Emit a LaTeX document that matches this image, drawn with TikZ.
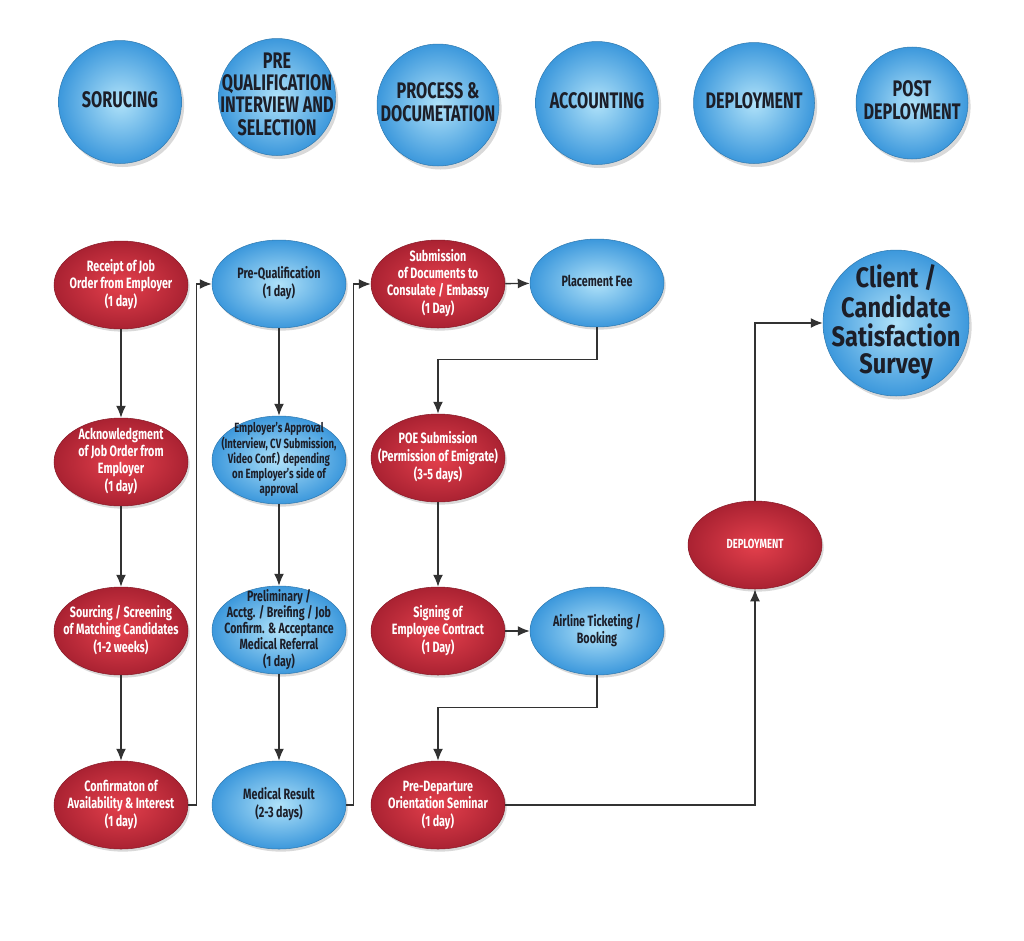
\documentclass[tikz,border=0pt]{standalone}
\usepackage{fontspec}
\setmainfont{Fira Sans}[FakeStretch=0.72]
\newfontfamily\surveyfont{Fira Sans}[FakeStretch=0.84]
\usetikzlibrary{shapes.geometric,shadows,arrows.meta}

\definecolor{redin}{RGB}{228,64,76}
\definecolor{redout}{RGB}{170,34,50}
\definecolor{bluein}{RGB}{176,226,249}
\definecolor{blueout}{RGB}{60,152,220}
\definecolor{inkdark}{RGB}{28,30,40}
\definecolor{wire}{RGB}{50,50,50}

% text that does not change the size of its shape
\newcommand\steptext[1]{\makebox[0pt]{\raisebox{-0.25em}[0pt][0pt]{%
    \begin{tabular}{@{}c@{}}#1\end{tabular}}}}

\tikzset{
    bubble/.style={ellipse,inner sep=0pt,
        minimum width=2.68cm,minimum height=1.76cm,
        drop shadow={opacity=0.3,shadow xshift=1pt,shadow yshift=-1.5pt},
        font=\bfseries\fontsize{8.5}{9.6}\selectfont},
    redstep/.style={bubble,shading=radial,inner color=redin,outer color=redout,
        draw=redout!80!black,line width=0.3pt,text=white},
    bluestep/.style={bubble,shading=radial,inner color=bluein,outer color=blueout,
        draw=blueout!80!black,line width=0.3pt,text=inkdark},
    phase/.style={circle,inner sep=0pt,shading=radial,
        inner color=bluein,outer color=blueout,draw=blueout!80!black,line width=0.3pt,
        drop shadow={opacity=0.3,shadow xshift=1.5pt,shadow yshift=-2pt},
        text=inkdark,font=\bfseries\fontsize{12.8}{12.6}\selectfont},
    flow/.style={draw=wire,line width=0.8pt,-{Latex[length=2.4mm,width=2mm]}}
}

\begin{document}
\begin{tikzpicture}[x=0.02cm,y=-0.02cm]
    \useasboundingbox (0,0) rectangle (1024,940);

    % phases along the top
    \foreach \n/\x/\y/\s/\t in {
        h1/120/102/2.46cm/{SORUCING},
        h2/277/97/2.34cm/{PRE\\QUALIFICATION\\INTERVIEW AND\\SELECTION},
        h3/438/105/2.44cm/{PROCESS \&\\DOCUMETATION},
        h4/597/103/2.46cm/{ACCOUNTING},
        h5/754/103/2.42cm/{DEPLOYMENT},
        h6/912/103/2.24cm/{POST\\DEPLOYMENT}} {
        \node [phase,minimum size=\s] (\n) at (\x,\y) {\steptext{\t}};
    }

    % sourcing column
    \node [redstep] (rcpt) at (121,285) {\steptext{Receipt of Job\\Order from Employer\\(1 day)}};
    \node [redstep] (ack) at (121,462) {\steptext{Acknowledgment\\of Job Order from\\Employer\\(1 day)}};
    \node [redstep] (srcg) at (121,631) {\steptext{Sourcing / Screening\\of Matching Candidates\\(1-2 weeks)}};
    \node [redstep] (conf) at (121,805) {\steptext{Confirmaton of\\Availability \& Interest\\(1 day)}};

    % qualification column
    \node [bluestep] (preq) at (279,284) {\steptext{Pre-Qualification\\(1 day)}};
    \node [bluestep,font=\bfseries\fontsize{7.6}{7.9}\selectfont] (appr) at (279,460)
        {\steptext{Employer’s Approval\\(Interview, CV Submission,\\Video Conf.) depending\\on Employer’s side of\\approval}};
    \node [bluestep,font=\bfseries\fontsize{8.4}{8.3}\selectfont] (prelim) at (279,630)
        {\steptext{Preliminary /\\Acctg. / Breifing / Job\\Confirm. \& Acceptance\\Medical Referral\\(1 day)}};
    \node [bluestep] (medres) at (279,805) {\steptext{Medical Result\\(2-3 days)}};

    % documentation column
    \node [redstep] (subm) at (438,284) {\steptext{Submission\\of Documents to\\Consulate / Embassy\\(1 Day)}};
    \node [bluestep] (fee) at (597,283) {\steptext{Placement Fee}};
    \node [redstep] (poe) at (438,458) {\steptext{POE Submission\\(Permission of Emigrate)\\(3-5 days)}};
    \node [redstep] (sign) at (438,631) {\steptext{Signing of\\Employee Contract\\(1 Day)}};
    \node [bluestep] (airl) at (597,631) {\steptext{Airline Ticketing /\\Booking}};
    \node [redstep] (predep) at (438,805) {\steptext{Pre-Departure\\Orientation Seminar\\(1 day)}};

    % deployment and survey
    \node [redstep,font=\bfseries\fontsize{7.5}{8}\selectfont] (deploy) at (755,545) {\steptext{DEPLOYMENT}};
    \node [phase,minimum size=2.92cm,font=\surveyfont\bfseries\fontsize{16}{12.6}\selectfont]
        (survey) at (896,323) {\steptext{Client /\\Candidate\\Satisfaction\\Survey}};

    % connectors
    \draw [flow] (rcpt) -- (ack);
    \draw [flow] (ack) -- (srcg);
    \draw [flow] (srcg) -- (conf);
    \draw [flow] (conf.east) -- ++(8,0) |- (preq.west);
    \draw [flow] (preq) -- (appr);
    \draw [flow] (appr) -- (prelim);
    \draw [flow] (prelim) -- (medres);
    \draw [flow] (medres.east) -- ++(7,0) |- (subm.west);
    \draw [flow] (subm) -- (fee);
    \draw [flow] (fee.south) -- ++(0,32) -| (poe.north);
    \draw [flow] (poe) -- (sign);
    \draw [flow] (sign) -- (airl);
    \draw [flow] (airl.south) -- ++(0,32) -| (predep.north);
    \draw [flow] (predep.east) -| (deploy.south);
    \draw [flow] (deploy.north) |- (survey.west);
\end{tikzpicture}
\end{document}
